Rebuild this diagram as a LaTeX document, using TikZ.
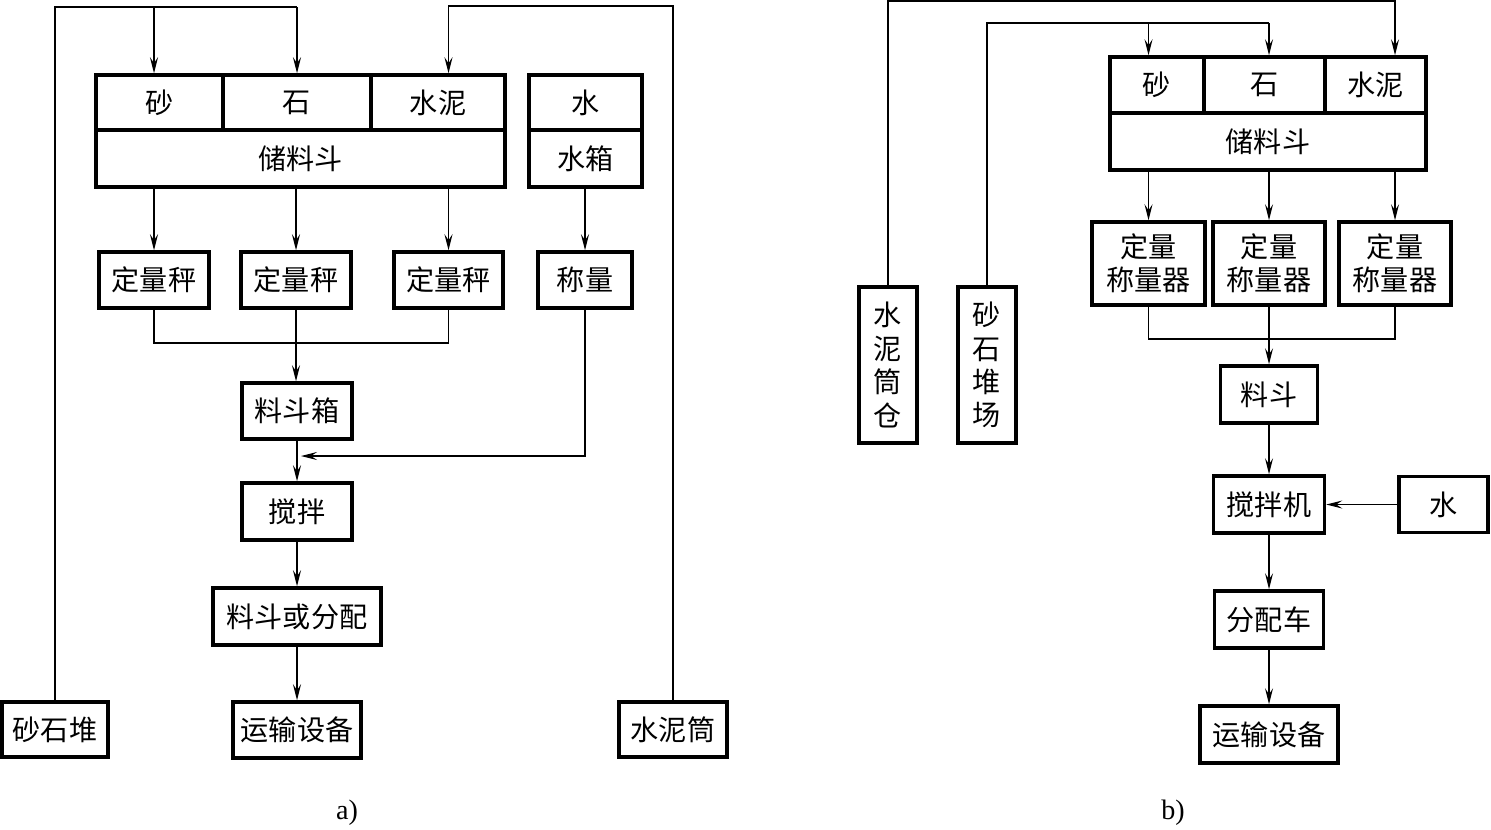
\documentclass[tikz,border=0pt]{standalone}
\usepackage{fontspec}
\setmainfont{Liberation Serif}
\newfontfamily\cjk{Noto Sans CJK SC}
\usetikzlibrary{arrows.meta}

\begin{document}
\begin{tikzpicture}[x=0.02cm, y=-0.02cm, line width=0.7pt,
                    main box/.style={draw,line width=2pt,inner sep=0pt,align=center,
                                     font=\cjk\fontsize{16}{19}\selectfont},
                    arr/.style={-{Stealth[length=3.2mm,width=1.6mm,inset=1.2mm]}}]

  \path[use as bounding box] (0,0) rectangle (1491,829);

  % a)
  \node[main box,minimum width=2.54cm,minimum height=1.1cm] (sha) at (159.5,102.5) {砂};
  \node[main box,minimum width=2.96cm,minimum height=1.1cm] (shi) at (297,102.5) {石};
  \node[main box,minimum width=2.68cm,minimum height=1.1cm] (shuini) at (438,102.5) {水泥};
  \node[main box,minimum width=8.18cm,minimum height=1.14cm] (chu) at (300.5,158.5) {储料斗};
  \node[main box,minimum width=2.26cm,minimum height=1.1cm] (shui) at (585.5,102.5) {水};
  \node[main box,minimum width=2.26cm,minimum height=1.14cm] (shuixiang) at (585.5,158.5) {水箱};
  \node[main box,minimum width=2.2cm,minimum height=1.12cm] (dl1) at (154,280) {定量秤};
  \node[main box,minimum width=2.2cm,minimum height=1.12cm] (dl2) at (296,280) {定量秤};
  \node[main box,minimum width=2.18cm,minimum height=1.12cm] (dl3) at (448.5,280) {定量秤};
  \node[main box,minimum width=1.88cm,minimum height=1.12cm] (cl) at (585,280) {称量};
  \node[main box,minimum width=2.2cm,minimum height=1.12cm] (ldx) at (297,411) {料斗箱};
  \node[main box,minimum width=2.2cm,minimum height=1.14cm] (jb) at (297,511.5) {搅拌};
  \node[main box,minimum width=3.36cm,minimum height=1.14cm] (fp) at (297,616.5) {料斗或分配};
  \node[main box,minimum width=2.56cm,minimum height=1.12cm] (ys) at (297,730) {运输设备};
  \node[main box,minimum width=2.12cm,minimum height=1.1cm] (ssd) at (55,729.5) {砂石堆};
  \node[main box,minimum width=2.16cm,minimum height=1.1cm] (snt) at (673,729.5) {水泥筒};
  \node[font=\fontsize{16}{19}\selectfont] (capa) at (347,813) {a)};

  \coordinate (topa) at (0,7);
  \coordinate (topc) at (0,6);
  \coordinate (mrga) at (0,343);
  \coordinate (wjoin) at (301,456);

  \draw (ssd.north) |- (shi.north |- topa);
  \draw[arr] (shi.north |- topa) -- (shi.north);
  \draw[arr] (dl1 |- topa) -- (dl1 |- sha.north);
  \draw[arr] (snt.north) |- (dl3 |- topc) -- (dl3 |- shuini.north);

  \draw[arr] (dl1 |- chu.south) -- (dl1);
  \draw[arr] (dl2 |- chu.south) -- (dl2);
  \draw[arr] (dl3 |- chu.south) -- (dl3);
  \draw[arr] (cl |- shuixiang.south) -- (cl);

  \draw (dl1.south) |- (dl3 |- mrga) -- (dl3.south);
  \draw[arr] (dl2.south) -- (dl2 |- ldx.north);
  \draw[arr] (cl.south) |- (wjoin);

  \path[arr]
    (ldx) edge (jb)
    (jb) edge (fp)
    (fp) edge (ys);

  % b)
  \node[main box,minimum width=1.88cm,minimum height=1.12cm] (sha2) at (1157,85) {砂};
  \node[main box,minimum width=2.42cm,minimum height=1.12cm] (shi2) at (1264.5,85) {石};
  \node[main box,minimum width=2.02cm,minimum height=1.12cm] (shuini2) at (1375.5,85) {水泥};
  \node[main box,minimum width=6.32cm,minimum height=1.14cm] (chu2) at (1268,141.5) {储料斗};
  \node[main box,minimum width=2.26cm,minimum height=1.66cm] (dlq1) at (1148.5,263.5) {定量\\称量器};
  \node[main box,minimum width=2.24cm,minimum height=1.66cm] (dlq2) at (1269,263.5) {定量\\称量器};
  \node[main box,minimum width=2.24cm,minimum height=1.66cm] (dlq3) at (1395,263.5) {定量\\称量器};
  \node[main box,minimum width=1.94cm,minimum height=1.14cm] (ld2) at (1269,394.5) {料斗};
  \node[main box,minimum width=2.22cm,minimum height=1.14cm] (jbj) at (1269,504.5) {搅拌机};
  \node[main box,minimum width=1.78cm,minimum height=1.12cm] (shui2) at (1443.5,504.5) {水};
  \node[main box,minimum width=2.18cm,minimum height=1.14cm] (fpc) at (1269,619.5) {分配车};
  \node[main box,minimum width=2.76cm,minimum height=1.14cm] (ys2) at (1269,734.5) {运输设备};
  \node[main box,minimum width=1.16cm,minimum height=3.12cm] (snc) at (888,365) {水\\泥\\筒\\仓};
  \node[main box,minimum width=1.16cm,minimum height=3.12cm] (ssc) at (987,365) {砂\\石\\堆\\场};
  \node[font=\fontsize{16}{19}\selectfont] (capb) at (1173,813) {b)};

  \coordinate (topb) at (0,1);
  \coordinate (topd) at (0,23);
  \coordinate (mrgb) at (0,339);

  \draw[arr] (snc.north) |- (dlq3 |- topb) -- (dlq3 |- shuini2.north);
  \draw (ssc.north) |- (dlq2 |- topd);
  \draw[arr] (dlq2 |- topd) -- (dlq2 |- shi2.north);
  \draw[arr] (dlq1 |- topd) -- (dlq1 |- sha2.north);

  \draw[arr] (dlq1 |- chu2.south) -- (dlq1);
  \draw[arr] (dlq2 |- chu2.south) -- (dlq2);
  \draw[arr] (dlq3 |- chu2.south) -- (dlq3);

  \draw (dlq1.south) |- (dlq3 |- mrgb) -- (dlq3.south);
  \draw[arr] (dlq2.south) -- (ld2.north);

  \path[arr]
    (ld2) edge (jbj)
    (shui2) edge (jbj)
    (jbj) edge (fpc)
    (fpc) edge (ys2);

\end{tikzpicture}
\end{document}
